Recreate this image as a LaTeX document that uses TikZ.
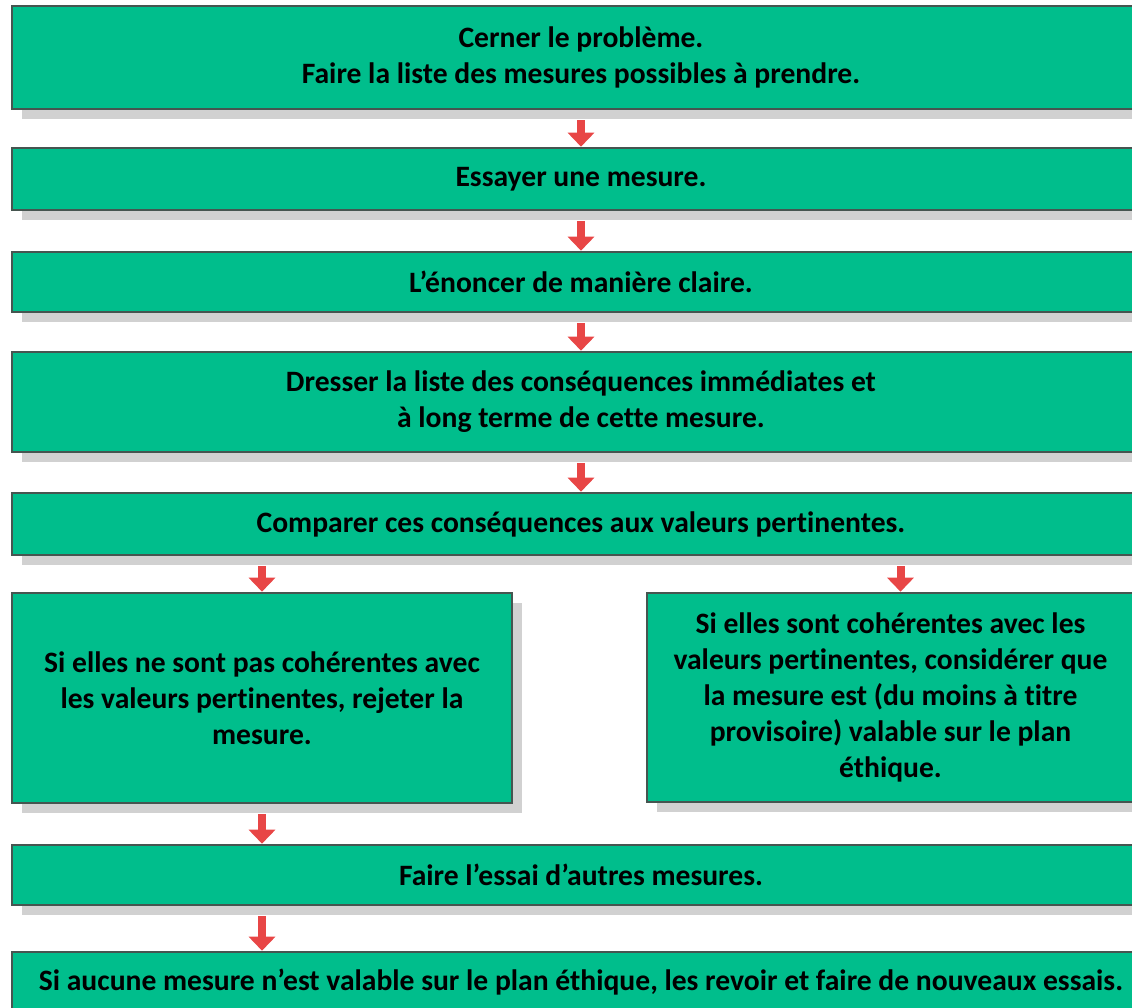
\documentclass[tikz,border=0pt]{standalone}
\usepackage{fontspec}
\setmainfont{Carlito}[Ligatures=NoCommon]
\usetikzlibrary{arrows.meta,shadows}
\definecolor{boxgreen}{RGB}{0,190,140}
\definecolor{boxedge}{RGB}{70,85,80}
\definecolor{arrowred}{RGB}{232,70,70}
\begin{document}
\begin{tikzpicture}[x=0.5pt,y=-0.5pt,
	stepbox/.style={draw=boxedge,line width=1.3pt,fill=boxgreen,inner sep=0pt,align=center,
		font=\bfseries\fontsize{14.8}{18}\selectfont,
		drop shadow={shadow xshift=5pt,shadow yshift=-5pt,fill=black!18,opacity=1}},
	redarrow/.style={draw=arrowred,line width=4pt,-{Triangle[width=13pt,length=7pt]}}]
	\useasboundingbox (0,0) rectangle (1132,1008);
	\node[stepbox,minimum width=569pt,minimum height=51.5pt] (cerner) at (581,57.5) {Cerner le problème.\\Faire la liste des mesures possibles à prendre.};
	\node[stepbox,minimum width=569pt,minimum height=31pt] (essayer) at (581,179) {Essayer une mesure.};
	\node[stepbox,minimum width=569pt,minimum height=30pt] (enoncer) at (581,282) {L’énoncer de manière claire.};
	\node[stepbox,minimum width=569pt,minimum height=50pt] (dresser) at (581,402) {Dresser la liste des conséquences immédiates et\\à long terme de cette mesure.};
	\node[stepbox,minimum width=569pt,minimum height=31pt] (comparer) at (581,524) {Comparer ces conséquences aux valeurs pertinentes.};
	\node[stepbox,minimum width=250pt,minimum height=105pt] (rejeter) at (262,698) {Si elles ne sont pas cohérentes avec\\les valeurs pertinentes, rejeter la\\mesure.};
	\node[stepbox,minimum width=243.5pt,minimum height=104.5pt] (valable) at (890.5,697.5) {Si elles sont cohérentes avec les\\valeurs pertinentes, considérer que\\la mesure est (du moins à titre\\provisoire) valable sur le plan\\éthique.};
	\node[stepbox,minimum width=569pt,minimum height=30pt] (autres) at (581,875) {Faire l’essai d’autres mesures.};
	\node[stepbox,minimum width=569pt,minimum height=30pt] (revoir) at (581,982) {Si aucune mesure n’est valable sur le plan éthique, les revoir et faire de nouveaux essais.};
	\draw[redarrow] ([yshift=-5pt]cerner.south) -- (essayer.north);
	\draw[redarrow] ([yshift=-5pt]essayer.south) -- (enoncer.north);
	\draw[redarrow] ([yshift=-5pt]enoncer.south) -- (dresser.north);
	\draw[redarrow] ([yshift=-5pt]dresser.south) -- (comparer.north);
	\draw[redarrow] ([yshift=-5pt]comparer.south -| rejeter.north) -- (rejeter.north);
	\draw[redarrow] ([xshift=5pt,yshift=-5pt]comparer.south -| valable.north) -- ([xshift=5pt]valable.north);
	\draw[redarrow] ([yshift=-5pt]rejeter.south) -- (rejeter.south |- autres.north);
	\draw[redarrow] ([yshift=-5pt]autres.south -| rejeter.south) -- (rejeter.south |- revoir.north);
\end{tikzpicture}
\end{document}
